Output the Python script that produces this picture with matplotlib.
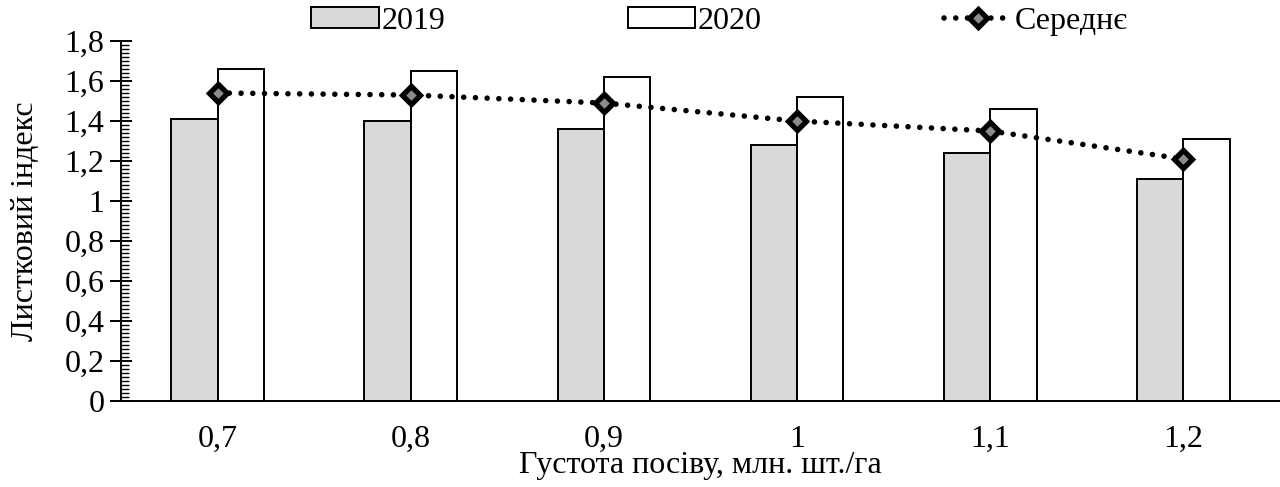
import numpy as np
import matplotlib.pyplot as plt
from matplotlib.ticker import MultipleLocator, FuncFormatter

plt.rcParams['font.family'] = ['Liberation Serif', 'DejaVu Serif']

# data
categories = ["0,7", "0,8", "0,9", "1", "1,1", "1,2"]
y2019 = [1.41, 1.40, 1.36, 1.28, 1.24, 1.11]
y2020 = [1.66, 1.65, 1.62, 1.52, 1.46, 1.31]
mean = [1.54, 1.53, 1.49, 1.40, 1.35, 1.21]

x = np.arange(len(categories))
w = 0.24
fs = 23

fig = plt.figure(figsize=(12.8, 4.87), dpi=100)
ax = fig.add_axes([121 / 1280, 1 - 401 / 487, 1159 / 1280, 360 / 487])

b1 = ax.bar(x - w / 2, y2019, w, color="#d9d9d9", edgecolor="black", linewidth=1.4, label="2019", zorder=2)
b2 = ax.bar(x + w / 2, y2020, w, color="white", edgecolor="black", linewidth=1.4, label="2020", zorder=2)
ln, = ax.plot(x, mean, linestyle=(0, (0.01, 2.1)), dash_capstyle="round", color="black", linewidth=4,
              marker="D", markersize=9, markerfacecolor="#8c8c8c", markeredgecolor="black",
              markeredgewidth=3.8, label="Середнє", zorder=3)

ax.set_xlim(-0.5, len(categories) - 0.5)
ax.set_ylim(0, 1.8)
ax.set_xticks(x)
ax.set_xticklabels(categories)
ax.yaxis.set_major_locator(MultipleLocator(0.2))
ax.yaxis.set_minor_locator(MultipleLocator(0.02))
ax.yaxis.set_major_formatter(FuncFormatter(lambda v, p: ("%g" % round(v, 1)).replace(".", ",")))

ax.tick_params(axis="x", length=0, labelsize=fs, pad=17)
ax.tick_params(axis="y", which="major", direction="inout", length=16, width=1.4, labelsize=fs, pad=4)
ax.tick_params(axis="y", which="minor", direction="in", length=6, width=1.0)

for s in ["top", "right"]:
    ax.spines[s].set_visible(False)
ax.spines["left"].set_linewidth(1.4)
ax.spines["bottom"].set_linewidth(1.4)

ax.set_ylabel("Листковий індекс", fontsize=fs)
ax.yaxis.set_label_coords(-0.07, 0.5)
ax.set_xlabel("Густота посіву, млн. шт./га", fontsize=fs)
ax.xaxis.set_label_coords(0.5, -0.14)

fig.legend(handles=[b1, b2, ln], loc="upper center", bbox_to_anchor=(0.562, 1.045), ncol=3,
           frameon=False, fontsize=fs, handlelength=2.1, handleheight=0.6, handletextpad=0.1,
           columnspacing=5.7)

fig.savefig("out.png", dpi=100)
